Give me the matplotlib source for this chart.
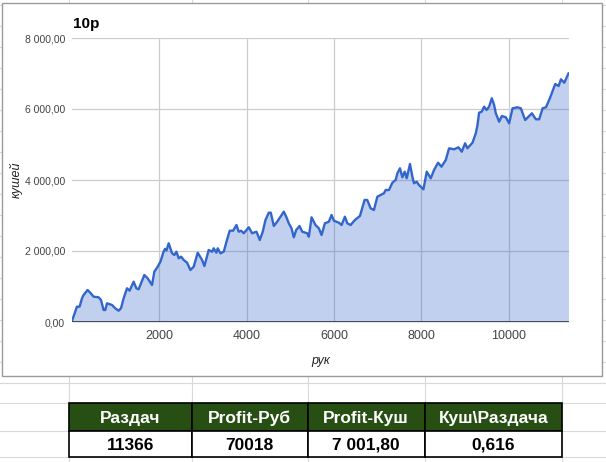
import matplotlib.pyplot as plt
import matplotlib.patches as mpatches
from matplotlib.ticker import FuncFormatter

plt.rcParams["font.family"] = ["Liberation Sans", "DejaVu Sans"]

# cumulative winnings (кушей) against number of hands (рук)
hands = [0, 113, 173, 228, 265, 356, 418, 494, 609, 664, 723, 762, 801, 916, 991,
         1067, 1122, 1182, 1259, 1319, 1411, 1473, 1525, 1656, 1732, 1832, 1885,
         1961, 2028, 2090, 2130, 2165, 2213, 2291, 2344, 2390, 2443, 2497, 2557,
         2635, 2710, 2786, 2878, 2978, 3031, 3130, 3208, 3244, 3306, 3336, 3398,
         3474, 3552, 3611, 3689, 3765, 3817, 3872, 3932, 4046, 4124, 4223, 4299,
         4367, 4429, 4505, 4551, 4620, 4697, 4773, 4849, 4904, 4963, 5025, 5078,
         5133, 5209, 5271, 5385, 5422, 5484, 5575, 5651, 5713, 5789, 5880, 5942,
         5995, 6110, 6172, 6247, 6302, 6378, 6476, 6591, 6698, 6760, 6836, 6912,
         6990, 7141, 7180, 7256, 7334, 7410, 7449, 7508, 7563, 7616, 7662, 7737,
         7792, 7829, 7891, 7944, 8045, 8121, 8212, 8288, 8380, 8458, 8556, 8632,
         8747, 8847, 8923, 8999, 9053, 9168, 9244, 9283, 9319, 9381, 9434, 9489,
         9548, 9610, 9663, 9702, 9778, 9840, 9932, 10007, 10085, 10200, 10275,
         10374, 10528, 10619, 10695, 10773, 10849, 10940, 11062, 11140, 11193,
         11269, 11366]
kush = [30, 431, 431, 664, 761, 901, 825, 713, 696, 620, 338, 338, 527, 479, 386,
        318, 386, 668, 949, 882, 1135, 949, 921, 1324, 1231, 1042, 1417,
        1558, 1709, 1960, 2060, 2020, 2217, 1935, 1887, 1980, 1794, 1840, 1747,
        1670, 1465, 1558, 1952, 1747, 1577, 2028, 1980, 2076, 1952, 2076, 1935,
        1980, 2330, 2572, 2572, 2732, 2544, 2572, 2499, 2668, 2499, 2544, 2310,
        2544, 2873, 3079, 3079, 2704, 2825, 2966, 3107, 2966, 2780, 2639, 2386,
        2592, 2704, 2544, 2499, 2403, 2949, 2732, 2639, 2451, 2780, 2825, 3014,
        2854, 2797, 2732, 2966, 2780, 2732, 2873, 2986, 3437, 3437, 3203, 3155,
        3530, 3626, 3718, 3718, 3924, 4000, 4189, 4330, 4076, 4234, 4048, 4451,
        4093, 3907, 3952, 3859, 3738, 4234, 4048, 4282, 4487, 4375, 4563, 4893,
        4865, 4921, 4797, 5034, 4893, 5051, 5316, 5549, 5896, 5924, 6065, 5972,
        6065, 6302, 6113, 5879, 5642, 5803, 5766, 5597, 6020, 6048, 6020,
        5690, 5879, 5710, 5710, 6020, 6048, 6302, 6704, 6648, 6837,
        6741, 7001.8]

x_ticks = [2000, 4000, 6000, 8000, 10000]
y_ticks = [0, 2000, 4000, 6000, 8000]

table_headers = ["Раздач", "Profit-Руб", "Profit-Куш", "Куш\\Раздача"]
table_values = ["11366", "70018", "7 001,80", "0,616"]

W, H = 606, 462


def rub_fmt(v, pos):
    s = f"{v:,.2f}"
    return s.replace(",", " ").replace(".", ",")


fig = plt.figure(figsize=(W / 100, H / 100), dpi=100)

# spreadsheet background: grid lines, chart frame, summary table (pixel coords)
bg = fig.add_axes([0, 0, 1, 1], zorder=0)
bg.set_xlim(0, W)
bg.set_ylim(H, 0)
bg.axis("off")

col_edges = [68.7, 191.7, 308, 424.5, 562]
row_lines = [382.7, 403.3, 430.7, 457.3]
for yy in [382.7 - 21 * k for k in range(1, 19)] + row_lines:
    bg.plot([0, W], [yy, yy], color="#d9d9d9", lw=0.8)
for xx in col_edges:
    bg.plot([xx, xx], [0, H], color="#d9d9d9", lw=0.8)

bg.add_patch(mpatches.Rectangle((2, 3), 599.5, 372.5, facecolor="white",
                                edgecolor="#9a9a9a", lw=1.0, zorder=3))

top, mid, bot = row_lines[1], row_lines[2], row_lines[3]
for i, (hd, val) in enumerate(zip(table_headers, table_values)):
    x0, x1 = col_edges[i], col_edges[i + 1]
    bg.add_patch(mpatches.Rectangle((x0, top), x1 - x0, mid - top, facecolor="#274e13",
                                    edgecolor="black", lw=1.2, zorder=4))
    bg.add_patch(mpatches.Rectangle((x0, mid), x1 - x0, bot - mid, facecolor="white",
                                    edgecolor="black", lw=1.2, zorder=4))
    bg.text((x0 + x1) / 2, (top + mid) / 2 + 1, hd, color="white", fontsize=12.5,
            fontweight="bold", ha="center", va="center", zorder=5)
    bg.text((x0 + x1) / 2, (mid + bot) / 2 + 1, val, color="black", fontsize=12.5,
            fontweight="bold", ha="center", va="center", zorder=5)

# the chart itself
ax = fig.add_axes([72 / W, 1 - 322 / H, 496.5 / W, 284 / H], zorder=1)
ax.fill_between(hands, kush, 0, color="#3366cc", alpha=0.3, lw=0)
ax.plot(hands, kush, color="#3366cc", lw=1.7, zorder=3)
ax.axhline(0, color="#333333", lw=1.2, zorder=4)

ax.set_xlim(0, 11366)
ax.set_ylim(0, 8000)
ax.set_xticks(x_ticks)
ax.set_yticks(y_ticks)
ax.yaxis.set_major_formatter(FuncFormatter(rub_fmt))
ax.tick_params(axis="x", length=0, pad=6, labelsize=9, labelcolor="#444444")
ax.tick_params(axis="y", length=0, pad=5, labelsize=7.5, labelcolor="#444444")
ax.grid(True, color="#cccccc", lw=0.9)
ax.set_axisbelow(True)
for sp in ax.spines.values():
    sp.set_visible(False)

ax.set_xlabel("рук", fontsize=9, style="italic", color="#222222")
ax.xaxis.set_label_coords(0.5, -0.115)
ax.set_ylabel("кушей", fontsize=9, style="italic", color="#222222")
ax.yaxis.set_label_coords(-0.1, 0.5)

fig.text(73 / W, 1 - 28 / H, "10p", fontsize=11, fontweight="bold", va="baseline")

plt.savefig("out.png", dpi=100)
